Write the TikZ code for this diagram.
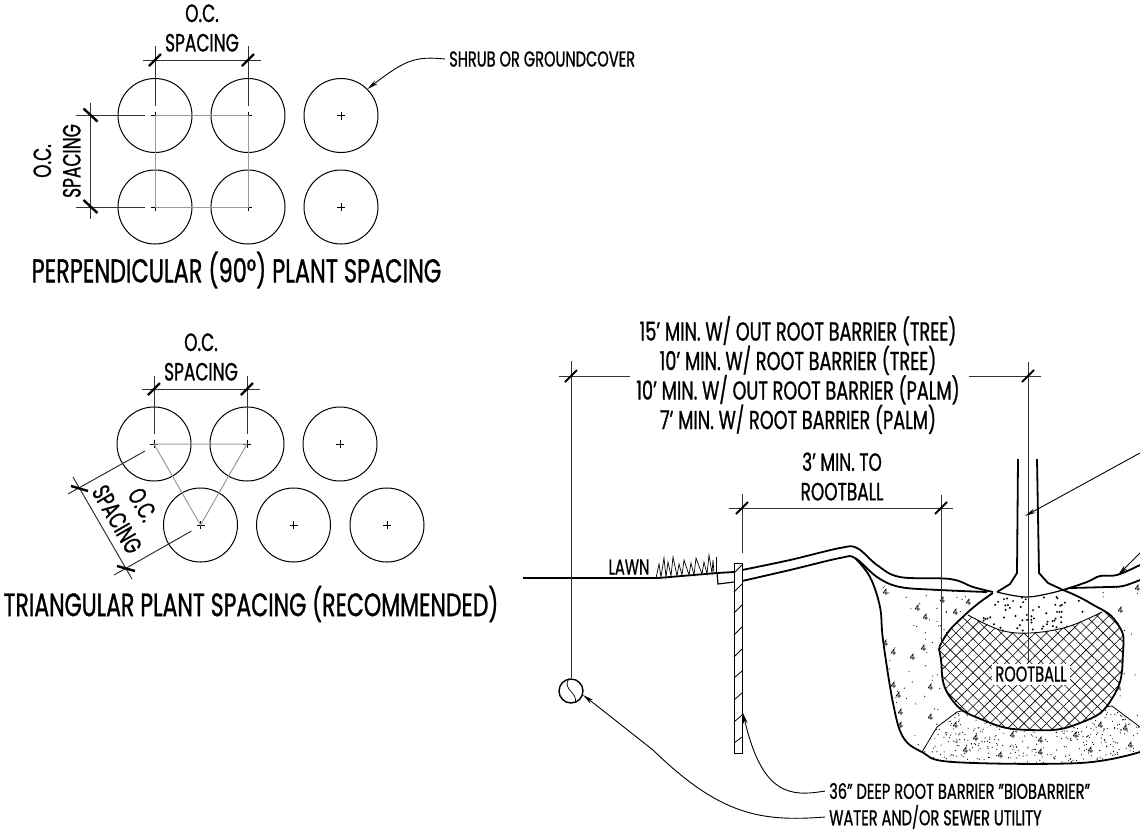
\documentclass[tikz,border=0pt]{standalone}
\usepackage{fontspec}
\setmainfont[FakeStretch=0.68,FakeBold=0.9]{Poppins}
\usetikzlibrary{arrows.meta,patterns.meta}

\newcommand{\ballpath}{plot[smooth,tension=.85] coordinates {(993,593) (967,613) (943,640) (941,660) (950,697) (983,720) (1030,730) (1080,723) (1113,697) (1123,653) (1117,623) (1090,603) (1063,590)} -- (1028,597) -- cycle}
\newcommand{\pitpath}{plot[smooth,tension=.6] coordinates {(855,558) (870,577) (880,607) (883,640) (893,703) (903,737) (922,752) (953,762) (1080,763) (1140,752)}}

\tikzset{
	every node/.style={inner sep=0pt},
	plant/.style={circle, draw, line width=1pt, minimum size=74pt,
		path picture={\draw[line width=.7pt] (path picture bounding box.center) +(-4,0) -- +(4,0) +(0,-4) -- +(0,4);}},
	dimline/.style={line width=1pt, draw=black!80},
	tick/.style={line width=2.4pt, draw=black},
	grid/.style={line width=1pt, draw=black!40},
	leader/.style={line width=.9pt, -{Stealth[length=11pt,width=4.5pt]}},
	earth/.style={line width=1.8pt, line join=round},
	title/.style={font=\fontsize{33}{33}\selectfont},
	dimtext/.style={font=\fontsize{25}{29.5}\selectfont, align=center},
	note/.style={font=\fontsize{21.5}{21.5}\selectfont},
	aggmark/.pic={\draw[line width=.6pt] (-2,1) -- (1,-3) -- (1,3) (-2,1) -- (3,1);}
}

\begin{document}
\begin{tikzpicture}[x=1pt,y=-1pt]
	\useasboundingbox (0,0) rectangle (1140,831);

	% Perpendicular spacing
	\node[plant] (P1) at (155,115.5) {};
	\node[plant] (P2) at (248,115.5) {};
	\node[plant] (P3) at (341,115.5) {};
	\node[plant] (P4) at (155,207) {};
	\node[plant] (P5) at (248,207) {};
	\node[plant] (P6) at (341,207) {};

	\draw[grid] (P1.center) -- (P2.center) -- (P5.center) -- (P4.center) -- cycle;

	\draw[dimline] (P1.center) ++(0,-10) -- ++(0,-60);
	\draw[dimline] (P2.center) ++(0,-10) -- ++(0,-60);
	\draw[dimline] (143,60) -- (261,60);
	\draw[tick] (155,60) ++(-6,6) -- ++(12,-12);
	\draw[tick] (248,60) ++(-6,6) -- ++(12,-12);

	\draw[dimline] (P1.center) ++(-10,0) -- ++(-69,0);
	\draw[dimline] (P4.center) ++(-10,0) -- ++(-69,0);
	\draw[dimline] (90.5,103) -- (90.5,219);
	\draw[tick] (90.5,115.5) ++(-7,-7) -- ++(14,13);
	\draw[tick] (90.5,207) ++(-7,-7) -- ++(14,13);

	\node[dimtext] (spacingA) at (202,28) {O.C.\\SPACING};
	\node[dimtext, rotate=90] (spacingB) at (57,161) {O.C.\\SPACING};
	\node[note, anchor=west] (shrub) at (449,59) {SHRUB OR GROUNDCOVER};
	\draw[leader] (shrub.west) ++(-4,0) .. controls (415,56) and (405,60) .. (P3.45);
	\node[title] (titleA) at (236.5,270) {PERPENDICULAR (90°) PLANT SPACING};

	% Triangular spacing
	\node[plant] (T1) at (154,444) {};
	\node[plant] (T2) at (247,444) {};
	\node[plant] (T3) at (340,444) {};
	\node[plant] (T4) at (200.5,525) {};
	\node[plant] (T5) at (293.5,525) {};
	\node[plant] (T6) at (387,525) {};

	\draw[grid] (T1.center) -- (T2.center) -- (T4.center) -- cycle;

	\draw[dimline] (T1.center) ++(0,-10) -- ++(0,-58);
	\draw[dimline] (T2.center) ++(0,-10) -- ++(0,-58);
	\draw[dimline] (141.5,389) -- (259.5,389);
	\draw[tick] (154,389) ++(-6,6) -- ++(12,-12);
	\draw[tick] (247,389) ++(-6,6) -- ++(12,-12);

	\draw[dimline] (T1.center) ++(-9,7) -- (68,494);
	\draw[dimline] (T4.center) ++(-9,6) -- (114,575);
	\draw[dimline] (73,477) -- (132,579);
	\draw[tick] (71,486) -- (88,491);
	\draw[tick] (117,566) -- (135,571);

	\node[dimtext] (spacingD) at (201,357) {O.C.\\SPACING};
	\node[dimtext, rotate=-60] (spacingC) at (130,512) {O.C.\\SPACING};
	\node[title, font=\fontsize{32.4}{32.4}\selectfont] (titleB) at (251,604) {TRIANGULAR PLANT SPACING (RECOMMENDED)};

	% Soil under the rootball
	\begin{scope}
		\clip \pitpath -- (1140,580) -- (1107,587) -- (1070,588) -- (1028,597) -- (987,592) -- (940,590) -- (900,587) -- (877,577) -- cycle;
		\pgfmathsetseed{11}
		\foreach \i in {1,...,230} {\fill ({880+260*rnd},{585+175*rnd}) circle (.6);}
		\foreach \mx/\my in {885/592,917/608,925/617,942/600,955/612,968/602,885/643,893/652,912/657,923/648,930/687,893/685,898/695,900/712,900/725,930/717,1120/610,1118/687,1137/588} {\pic at (\mx,\my) {aggmark};}
		% Mound
		\begin{scope}
			\clip (922,752) -- (937,727) -- (957,712) -- (1103,707) -- (1112,706) -- (1140,727) -- (1140,765) -- (922,765) -- cycle;
			\foreach \i in {1,...,420} {\fill ({922+218*rnd},{706+58*rnd}) circle (.6);}
			\foreach \mx/\my in {955/725,975/738,1012/735,1040/740,1075/735,1100/725,1125/728,965/750,1000/755,1040/752,1090/750,1130/745} {\pic at (\mx,\my) {aggmark};}
		\end{scope}
	\end{scope}
	\draw[line width=.8pt] (922,752) -- (937,727) -- (957,712) -- (975,708);
	\draw[line width=.8pt] (1095,708) -- (1112,706) -- (1140,727);

	% Rootball
	\fill[white] \ballpath;
	\begin{scope}
		\clip \ballpath;
		\fill[pattern={Lines[angle=45,distance=8pt,line width=.6pt]}] plot[smooth,tension=.6] coordinates {(968,615) (1000,630) (1030,633) (1067,627) (1102,612)} -- (1130,600) -- (1130,735) -- (935,735) -- (935,600) -- cycle;
		\fill[pattern={Lines[angle=-45,distance=8pt,line width=.6pt]}] plot[smooth,tension=.6] coordinates {(968,615) (1000,630) (1030,633) (1067,627) (1102,612)} -- (1130,600) -- (1130,735) -- (935,735) -- (935,600) -- cycle;
		\pgfmathsetseed{5}
		\begin{scope}
			\clip plot[smooth,tension=.6] coordinates {(968,615) (1000,630) (1030,633) (1067,627) (1102,612)} -- (1102,590) -- (968,590) -- cycle;
			\foreach \i in {1,...,70} {\fill ({975+120*rnd},{597+34*rnd}) circle (1.1);}
		\end{scope}
	\end{scope}
	\draw[line width=.9pt] plot[smooth,tension=.6] coordinates {(968,615) (1000,630) (1030,633) (1067,627) (1102,612)};
	\draw[earth] plot[smooth,tension=.85] coordinates {(993,593) (967,613) (943,640) (941,660) (950,697) (983,720) (1030,730) (1080,723) (1113,697) (1123,653) (1117,623) (1090,603) (1063,590)};
	\draw[line width=1.2pt] plot[smooth,tension=.6] coordinates {(997,592) (1028,597) (1063,590)};

	% Ground and pit
	\draw[earth] \pitpath;
	\draw[earth] (523,578) -- (658,578) -- (717,573) -- (734,572);
	\draw[line width=1.2pt] (717,573) -- (718,584) -- (734,582);
	\draw[earth] plot[smooth,tension=.6] coordinates {(742,570) (790,560) (840,548) (857,548) (877,565) (900,577) (950,579) (973,587) (993,592)};
	\draw[earth] plot[smooth,tension=.6] coordinates {(742,581) (790,570) (840,558) (855,558) (877,577) (900,587) (940,590) (987,592)};
	\draw[earth] plot[smooth,tension=.6] coordinates {(1063,590) (1087,582) (1100,576) (1117,575) (1140,565)};
	\draw[earth] plot[smooth,tension=.6] coordinates {(1070,588) (1107,587) (1123,586) (1140,580)};

	% Trunk
	\draw[earth] (1018,459) -- (1017,573) -- (1010,584) -- (997,592);
	\draw[earth] (1037,459) -- (1039,573) -- (1048,583) -- (1063,590);

	% Lawn
	\draw[line width=.7pt] (656,578) -- (659,564) -- (661,577) -- (664,558) -- (666,577) -- (668,562) -- (671,576) -- (673,557) -- (677,576) -- (679,564) -- (682,575) -- (684,560) -- (689,575) -- (691,563) -- (694,575) -- (696,558) -- (702,574) -- (704,562) -- (707,574) -- (709,555) -- (712,573) -- (713,560) -- (714,573);
	\draw[line width=1pt] (716,573) -- (716,557);
	\node[note] (lawn) at (629,567) {LAWN};

	% Root barrier
	\node[draw, line width=1pt, fill=white, minimum width=8pt, minimum height=190pt] (barrier) at (738,658) {};
	\draw[line width=.8pt] (734,573) -- (742,565) (734,592) -- (742,584) (734,613) -- (742,605) (734,635) -- (742,627) (734,657) -- (742,649) (734,678) -- (742,671) (734,700) -- (742,693) (734,722) -- (742,715) (734,743) -- (742,737);

	% Distance to utility
	\node[circle, draw, line width=1.4pt, minimum size=24pt] (utility) at (571,691) {};
	\draw[line width=.7pt] (utility.100) .. controls (562,690) and (578,692) .. (utility.-70);
	\draw[dimline] (utility.north) -- ++(0,-317);
	\draw[dimline] (1028,362) -- (1028,662);
	\draw[dimline] (559,376) -- (630,376);
	\draw[dimline] (969,376) -- (1041,376);
	\draw[tick, line width=2pt] (571,376) ++(-6,6) -- ++(12,-12);
	\draw[tick, line width=2pt] (1028,376) ++(-6,6) -- ++(12,-12);
	\node[dimtext, font=\fontsize{26}{29.5}\selectfont] (treetext) at (798,375) {15' MIN. W/ OUT ROOT BARRIER (TREE)\\10' MIN. W/ ROOT BARRIER (TREE)\\10' MIN. W/ OUT ROOT BARRIER (PALM)\\7' MIN. W/ ROOT BARRIER (PALM)};

	% Distance to rootball
	\draw[dimline] (742,494) -- (742,553);
	\draw[dimline] (941,495) -- (941,645);
	\draw[dimline] (729,508) -- (953,508);
	\draw[tick, line width=2pt] (742,508) ++(-6,6) -- ++(12,-12);
	\draw[tick, line width=2pt] (941,508) ++(-6,6) -- ++(12,-12);
	\node[dimtext] (balltext) at (842,476.5) {3' MIN. TO\\ROOTBALL};
	\node[note, fill=white, minimum width=78pt, minimum height=21pt] (rootball) at (1031,674) {ROOTBALL};

	% Labels and leaders
	\node[note, anchor=west] (barriertext) at (829,791) {36" DEEP ROOT BARRIER "BIOBARRIER"};
	\node[note, anchor=west] (utilitytext) at (829,817) {WATER AND/OR SEWER UTILITY};
	\coordinate (barrierend) at (743,713);
	\coordinate (utilityend) at (583,695);
	\coordinate (trunkend) at (1025,516);
	\coordinate (mulchend) at (1118,575);
	\draw[leader] (barriertext.west) ++(-4,0) .. controls (790,797) and (762,795) .. (barrierend);
	\draw[leader] (utilitytext.west) ++(-4,0) .. controls (760,822) and (720,815) .. (653,750) .. controls (625,728) and (605,712) .. (utilityend);
	\draw[leader] (1140,453) -- (trunkend);
	\draw[leader] (1140,553) -- (mulchend);
\end{tikzpicture}
\end{document}
